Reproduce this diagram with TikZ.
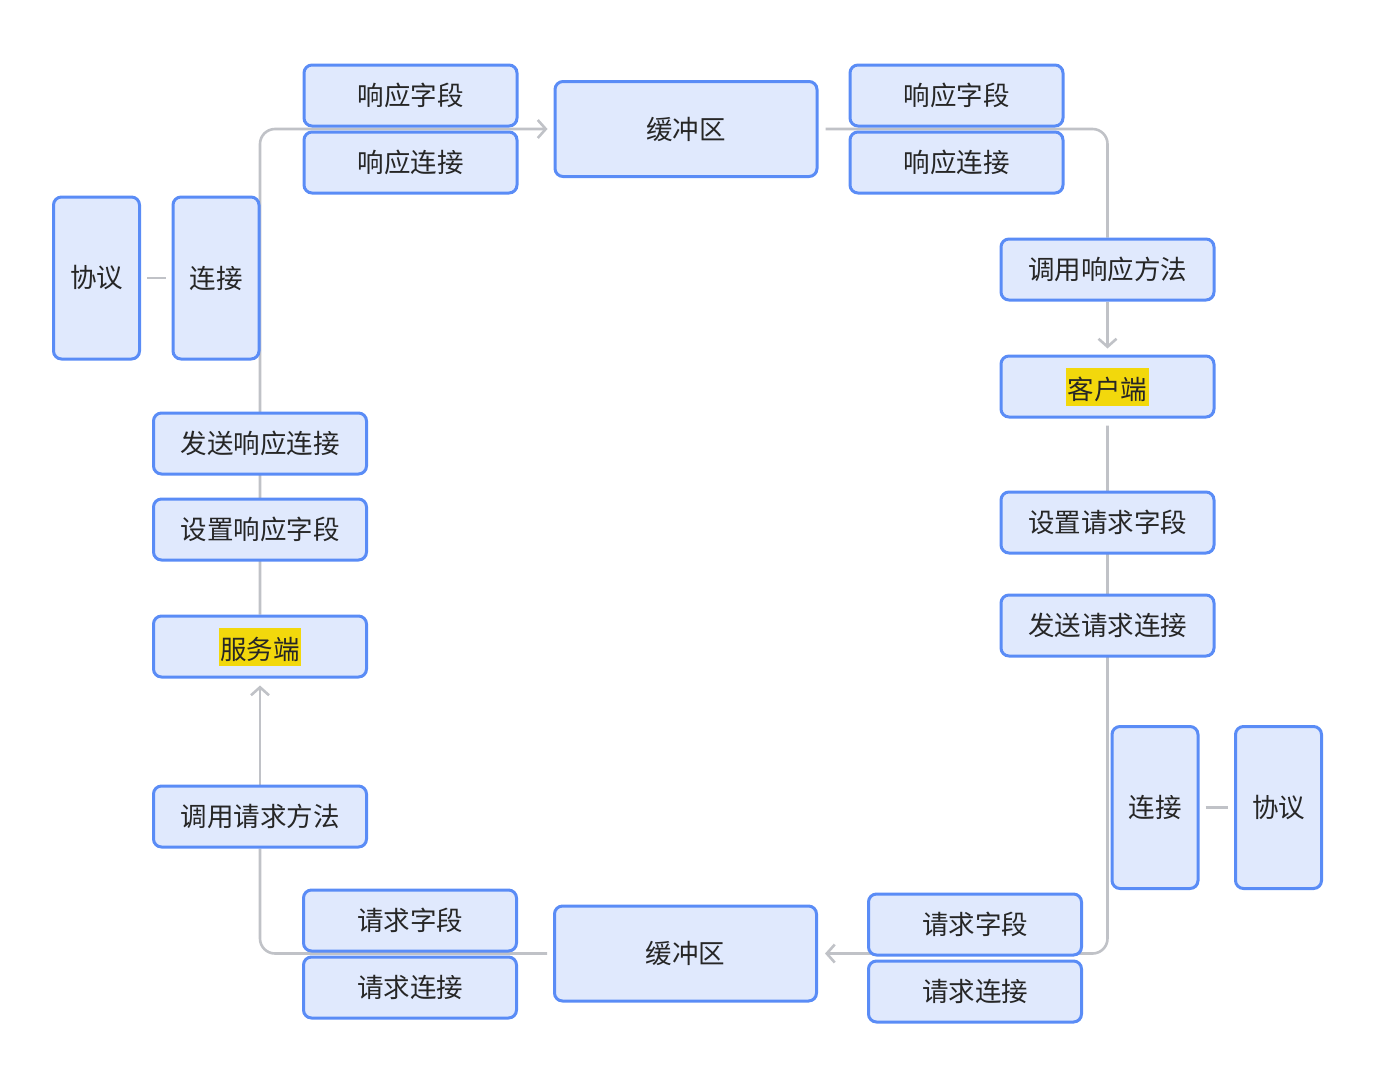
\documentclass[tikz,border=0pt]{standalone}
\usepackage{fontspec}
\newfontfamily\cjk{Noto Sans CJK SC}
\usetikzlibrary{positioning, arrows.meta}
\definecolor{boxfill}{HTML}{E0E9FD}
\definecolor{boxline}{HTML}{5A8CF6}
\definecolor{linkgray}{HTML}{C0C2C7}
\definecolor{hlyellow}{HTML}{F2D80C}
\definecolor{txt}{HTML}{262626}
\pgfdeclarelayer{bg}
\pgfsetlayers{bg,main}
\newcommand{\hlmark}[1]{{\setlength{\fboxsep}{1.5pt}\colorbox{hlyellow}{\rule[-4.5pt]{0pt}{35pt}#1}}}

\begin{document}
\begin{tikzpicture}[x=1pt, y=-1pt,
    box/.style={draw=boxline, fill=boxfill, line width=3pt, rounded corners=8pt, minimum width=213pt, minimum height=61pt, inner sep=0pt, align=center, text=txt, font=\cjk\fontsize{26.5}{32}\selectfont},
    tallbox/.style={box, minimum width=86pt, minimum height=162pt},
    bufbox/.style={box, minimum width=262pt, minimum height=95pt},
    link/.style={draw=linkgray, line width=2.6pt, rounded corners=15pt},
    arrow/.style={link, -{Straight Barb[length=8pt, width=18pt]}}
]
    \useasboundingbox (0,0) rectangle (1375,1066);

    % Nodes
    \node[tallbox] (proto1) at (96.5,278) {协议};
    \node[tallbox] (conn1) at (216,278) {连接};
    \node[box] (rspfld1) at (410.5,95.5) {响应字段};
    \node[box, below=3pt of rspfld1] (rspconn1) {响应连接};
    \node[bufbox] (buf1) at (686,129) {缓冲区};
    \node[box] (rspfld2) at (956.5,95.5) {响应字段};
    \node[box, below=3pt of rspfld2] (rspconn2) {响应连接};
    \node[box] (callrsp) at (1107.5,269.5) {调用响应方法};
    \node[box] (client) at (1107.5,386.5) {\hlmark{客户端}};
    \node[box] (setreq) at (1107.5,522.5) {设置请求字段};
    \node[box] (sendreq) at (1107.5,625.5) {发送请求连接};
    \node[tallbox] (conn2) at (1155,807.5) {连接};
    \node[tallbox] (proto2) at (1278.5,807.5) {协议};
    \node[box] (reqfld2) at (975,924.5) {请求字段};
    \node[box, below=3pt of reqfld2] (reqconn2) {请求连接};
    \node[bufbox] (buf2) at (685.5,953.5) {缓冲区};
    \node[box] (reqfld1) at (410,920.5) {请求字段};
    \node[box, below=3pt of reqfld1] (reqconn1) {请求连接};
    \node[box] (callreq) at (260,816.5) {调用请求方法};
    \node[box] (server) at (260,646.5) {\hlmark{服务端}};
    \node[box] (setrsp) at (260,529.5) {设置响应字段};
    \node[box] (sendrsp) at (260,443.5) {发送响应连接};

    % Connections
    \begin{pgfonlayer}{bg}
        \draw[arrow, shorten >=6pt] (server.north) -- (server.north |- buf1.west) -- (buf1.west);
        \draw[link, shorten <=7pt] (buf1.east) -- (callrsp.north |- buf1.east) -- (callrsp.north);
        \draw[arrow, shorten >=6pt] (callrsp.south) -- (client.north);
        \draw[arrow, shorten <=7pt, shorten >=7pt] (client.south) -- (client.south |- buf2.east) -- (buf2.east);
        \draw[link, shorten <=6pt] (buf2.west) -- (callreq.south |- buf2.west) -- (callreq.south);
        \draw[arrow, shorten >=7pt] (callreq.north) -- (server.south);
        \draw[link, shorten <=6pt, shorten >=6pt] (proto1) -- (conn1);
        \draw[link, shorten <=6pt, shorten >=6pt] (conn2) -- (proto2);
    \end{pgfonlayer}
\end{tikzpicture}
\end{document}
